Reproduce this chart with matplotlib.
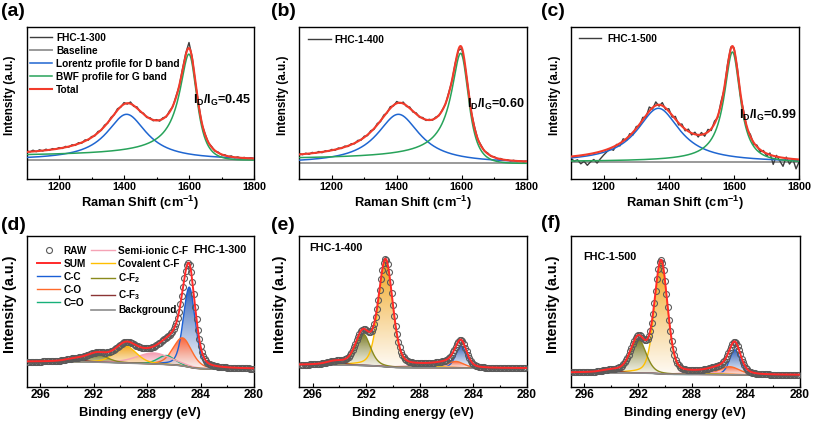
import numpy as np
import matplotlib
matplotlib.use("Agg")
import matplotlib.pyplot as plt
from matplotlib.colors import to_rgb

plt.rcParams.update({
    'font.family': ['Liberation Sans', 'DejaVu Sans'],
    'font.weight': 'bold',
    'axes.labelweight': 'bold',
    'mathtext.fontset': 'custom',
    'mathtext.rm': 'Liberation Sans:bold',
    'mathtext.it': 'Liberation Sans:bold',
    'mathtext.bf': 'Liberation Sans:bold',
    'mathtext.sf': 'Liberation Sans:bold',
    'axes.linewidth': 1.0,
})

# ---------------- Raman data (a-c) ----------------
raman_shift = np.arange(1100, 1801, 10)
raman_fhc300 = [9.5, 8.0, 9.8, 8.3, 10.2, 9.0, 10.8, 9.6, 11.4, 10.6,
                12.4, 11.5, 13.6, 12.9, 15.2, 14.6, 17.3, 16.8, 20.1, 19.8,
                23.4, 24.0, 28.5, 29.6, 34.8, 36.9, 42.6, 45.2, 51.3, 52.8,
                57.4, 55.9, 58.0, 53.6, 53.1, 47.9, 46.8, 42.5, 42.3, 39.2,
                40.4, 38.9, 42.3, 43.0, 49.1, 53.2, 63.8, 73.9, 91.2, 106.8,
                117.5, 102.5, 76.6, 55.2, 35.6, 25.8, 16.9, 13.4, 8.8, 7.9,
                5.1, 5.3, 3.2, 4.1, 2.3, 3.1, 1.8, 2.6, 1.4, 2.3, 1.2]
raman_fhc400 = [9.8, 8.6, 10.1, 9.0, 10.9, 10.0, 11.8, 10.6, 12.5, 11.9,
                13.9, 13.0, 15.3, 14.8, 17.2, 16.8, 19.6, 19.5, 22.9, 23.1,
                27.1, 27.7, 32.6, 33.9, 39.8, 41.7, 48.2, 50.3, 56.6, 57.4,
                61.8, 59.9, 61.2, 56.8, 56.3, 51.2, 50.4, 45.9, 45.8, 42.8,
                44.0, 43.1, 46.2, 47.6, 53.3, 59.1, 70.8, 82.4, 100.2, 112.9,
                114.8, 97.6, 74.7, 50.6, 35.8, 23.5, 17.9, 12.1, 10.3, 6.9,
                6.6, 4.4, 4.8, 3.0, 3.6, 2.3, 3.0, 1.8, 2.6, 1.5, 2.3]
raman_fhc500 = [4.0, 1.2, 2.5, -1.5, 1.0, -3.0, 0.5, 2.8, -0.8, 3.5,
                7.2, 10.5, 13.8, 12.0, 17.9, 16.4, 23.5, 21.9, 28.6, 27.4,
                35.8, 36.2, 44.9, 45.1, 55.3, 53.2, 60.4, 56.1, 59.7, 52.8,
                53.6, 45.2, 45.9, 37.4, 38.3, 31.5, 33.2, 27.4, 30.1, 25.3,
                29.8, 26.1, 32.9, 31.8, 41.2, 44.7, 60.8, 73.1, 98.4, 115.2,
                114.3, 94.6, 66.1, 50.4, 32.6, 27.9, 18.1, 17.2, 10.4, 11.8,
                6.5, 9.3, -2.1, 6.9, 1.5, -4.0, 5.2, -1.8, 3.6, -6.5, 1.0]
raman_samples = ['FHC-1-300', 'FHC-1-400', 'FHC-1-500']
id_ig_ratio = ['0.45', '0.60', '0.99']
# fitted band parameters: Lorentz D band and BWF G band
d_center = [1408, 1405, 1368]
d_height = [45.7, 49.0, 54.0]
d_hwhm = [75, 80, 80]
g_center = [1605, 1602, 1596.5]
g_height = [103, 107, 110]
g_fwhm = [65, 65, 60]
g_q = [-6, -6, -20]

# ---------------- XPS C 1s data (d-f) ----------------
xps_be = np.round(np.arange(280.1, 296.95, 0.1), 1)
xps_raw_300 = [18, 18, 18, 19, 19, 19, 19, 19, 19, 19,
               19, 19, 19, 19, 19, 19, 19, 19, 19, 19,
               20, 20, 20, 20, 20, 20, 20, 21, 21, 21,
               22, 22, 23, 23, 24, 26, 28, 31, 35, 41,
               48, 57, 68, 80, 93, 105, 115, 122, 124, 122,
               116, 109, 100, 91, 83, 75, 69, 64, 61, 58,
               55, 54, 52, 51, 50, 49, 48, 47, 46, 44,
               44, 43, 42, 41, 40, 40, 39, 39, 39, 39,
               39, 39, 39, 39, 40, 40, 41, 41, 42, 43,
               44, 44, 45, 45, 45, 45, 45, 44, 43, 42,
               41, 40, 39, 38, 37, 36, 36, 35, 35, 35,
               34, 34, 35, 35, 35, 35, 35, 35, 34, 34,
               34, 33, 33, 32, 32, 31, 31, 30, 30, 30,
               30, 29, 29, 29, 29, 29, 28, 28, 28, 28,
               27, 27, 27, 27, 26, 26, 26, 26, 26, 26,
               26, 26, 26, 26, 26, 26, 26, 26, 25, 25,
               25, 25, 25, 25, 25, 25, 25, 25, 25]
xps_raw_400 = [19, 19, 19, 19, 19, 19, 19, 19, 19, 19,
               19, 19, 19, 19, 19, 19, 19, 19, 19, 19,
               19, 19, 19, 19, 19, 19, 19, 19, 19, 19,
               19, 20, 20, 20, 20, 20, 21, 21, 22, 23,
               24, 26, 29, 32, 36, 39, 43, 46, 47, 47,
               45, 43, 40, 37, 35, 32, 30, 29, 28, 27,
               26, 26, 26, 25, 25, 25, 25, 25, 24, 24,
               24, 24, 24, 24, 24, 24, 24, 24, 24, 24,
               24, 24, 24, 24, 24, 25, 25, 25, 26, 27,
               28, 30, 32, 35, 40, 45, 53, 61, 71, 82,
               94, 105, 115, 123, 127, 128, 124, 117, 108, 97,
               87, 78, 70, 63, 59, 56, 55, 55, 56, 57,
               58, 58, 57, 56, 53, 50, 47, 43, 40, 37,
               34, 32, 30, 29, 28, 28, 27, 27, 27, 27,
               27, 27, 26, 26, 26, 26, 25, 25, 25, 24,
               24, 24, 24, 23, 23, 23, 23, 23, 23, 23,
               23, 23, 22, 22, 22, 22, 22, 22, 22]
xps_raw_500 = [12, 12, 12, 12, 12, 12, 12, 12, 12, 12,
               12, 12, 12, 12, 12, 12, 12, 12, 12, 12,
               12, 12, 13, 13, 13, 13, 13, 13, 13, 13,
               13, 13, 14, 14, 14, 15, 15, 16, 18, 19,
               22, 25, 28, 33, 37, 41, 44, 45, 45, 43,
               40, 37, 34, 31, 28, 26, 25, 23, 22, 22,
               21, 21, 20, 20, 20, 19, 19, 18, 18, 18,
               18, 17, 17, 17, 17, 17, 17, 17, 17, 17,
               17, 17, 17, 17, 18, 18, 18, 19, 20, 22,
               24, 27, 32, 38, 46, 56, 67, 80, 93, 106,
               117, 124, 127, 125, 118, 108, 96, 84, 73, 64,
               56, 51, 48, 47, 47, 48, 49, 51, 52, 52,
               51, 49, 46, 43, 39, 36, 32, 29, 27, 25,
               23, 21, 20, 20, 19, 19, 18, 18, 18, 18,
               18, 18, 17, 17, 17, 17, 16, 16, 16, 16,
               16, 15, 15, 15, 15, 15, 15, 15, 15, 15,
               15, 15, 15, 15, 15, 15, 15, 15, 15]
xps_samples = ['FHC-1-300', 'FHC-1-400', 'FHC-1-500']
xps_components = ['C-C', 'C-O', 'C=O', 'Semi-ionic C-F', 'Covalent C-F',
                  'C-F$_2$', 'C-F$_3$']
# fitted component parameters (centre eV, height, FWHM eV)
xps_center_300 = [284.84, 285.35, 286.55, 287.5, 289.6, 291.75, 293.4]
xps_height_300 = [80, 28, 9, 11, 17, 8, 2.5]
xps_fwhm_300 = [1.05, 1.65, 1.5, 3.0, 1.9, 1.75, 1.6]
xps_center_400 = [284.9, 285.3, 286.5, 287.5, 290.55, 292.25, 294.3]
xps_height_400 = [22, 6.5, 1.5, 2.5, 106, 32, 3]
xps_fwhm_400 = [0.95, 1.5, 1.4, 3.5, 1.25, 1.3, 1.5]
xps_center_500 = [284.8, 285.2, 286.4, 287.0, 290.3, 292.0, 294.0]
xps_height_500 = [25, 8, 1.5, 2.5, 112, 34, 2]
xps_fwhm_500 = [0.95, 1.8, 1.4, 3.5, 1.15, 1.35, 1.5]
bg_low_be = [17.7, 18.4, 11.7]
bg_high_be = [25.0, 21.7, 14.0]

comp_line = ['#1a5fd6', '#ff6a2a', '#17b07a', '#f5a3b5', '#ffbf00', '#8a8a1c', '#8b3434']
comp_fill = ['#2a5cb5', '#ff5e30', '#20ad74', '#f394aa', '#f0a010', '#75751c', '#8b3c3c']

W, H = 813, 421
fig = plt.figure(figsize=(W / 100, H / 100), dpi=100)


def add_ax(l, r, t, b):
    return fig.add_axes([l / W, 1 - b / H, (r - l) / W, (b - t) / H])


def lorentz(x, c, h, hw):
    return h / (1 + ((x - c) / hw) ** 2)


def bwf(x, c, h, fw, q):
    d = 2 * (x - c) / fw
    return h * (1 + d / q) ** 2 / (1 + d ** 2)


def gl(x, c, h, w, m=0.3):
    t = (x - c) / w
    return h * ((1 - m) * np.exp(-4 * np.log(2) * t ** 2) + m / (1 + 4 * t ** 2))


def shirley(x, signal, b_lo, b_hi):
    cum = np.cumsum(signal)
    cum = cum / cum[-1]
    return b_lo + (b_hi - b_lo) * cum


def gradient_fill(ax, x, base, top, color, z):
    poly = ax.fill_between(x, base, top, facecolor='none', edgecolor='none', zorder=z)
    n = 200
    t = np.linspace(0, 1, n)
    k = 0.05 + 0.95 * t ** 0.85
    c = np.array(to_rgb(color))
    img = np.zeros((n, 1, 4))
    img[:, 0, :3] = (1 - k)[:, None] * 1.0 + k[:, None] * c[None, :]
    img[:, 0, 3] = 0.6 + 0.38 * t
    im = ax.imshow(img, extent=[x.min(), x.max(), base.min(), top.max()],
                   origin='lower', aspect='auto', zorder=z, interpolation='bilinear')
    im.set_clip_path(poly.get_paths()[0], transform=ax.transData)


def style_x(ax, size, pad):
    ax.tick_params(axis='x', which='both', direction='in', top=False, bottom=True,
                   labelsize=size, pad=pad, width=0.8)
    ax.tick_params(axis='x', which='major', length=2.6)
    ax.tick_params(axis='x', which='minor', length=1.4)
    ax.tick_params(axis='y', which='both', left=False, right=False, labelleft=False)


# ---------------- Raman panels ----------------
top_boxes = [(26.5, 254, 27, 179), (299.3, 526.7, 27, 179), (571, 799.3, 27, 179)]
raman_ylim = [(-19.0, 133.0), (-15.7, 136.3), (-16.7, 135.3)]
raman_raw = [raman_fhc300, raman_fhc400, raman_fhc500]
raman_ylabel_x = [10, 283.3, 555]
leg_anchor = [(0.0154, 0.962), (0.0396, 0.948), (0.035, 0.955)]
leg_textpad = [0.4, 0.33, 0.59]
id_pos = [(0.987, 0.52), (0.9925, 0.493), (0.99, 0.421)]
xf = np.linspace(1100, 1800, 701)
for i, box in enumerate(top_boxes):
    ax = add_ax(*box)
    D = lorentz(xf, d_center[i], d_height[i], d_hwhm[i])
    G = bwf(xf, g_center[i], g_height[i], g_fwhm[i], g_q[i])
    h_raw, = ax.plot(raman_shift, raman_raw[i], color='#3d3d3d', lw=1.0,
                     label=raman_samples[i], zorder=2)
    h_base = ax.axhline(0, color='#9a9a9a', lw=1.4, label='Baseline', zorder=1)
    h_d, = ax.plot(xf, D, color='#1f66d1', lw=1.1, label='Lorentz profile for D band', zorder=3)
    h_g, = ax.plot(xf, G, color='#27a35a', lw=1.1, label='BWF profile for G band', zorder=3)
    h_t, = ax.plot(xf, D + G, color='#f23b2b', lw=1.5, label='Total', zorder=4)
    handles = [h_raw, h_base, h_d, h_g, h_t] if i == 0 else [h_raw]
    ax.legend(handles=handles, loc='upper left', bbox_to_anchor=leg_anchor[i],
              frameon=False, fontsize=7.3, handlelength=2.2, handletextpad=leg_textpad[i],
              labelspacing=0.29, borderpad=0, borderaxespad=0)
    ax.text(id_pos[i][0], id_pos[i][1], r'I$_\mathrm{D}$/I$_\mathrm{G}$=' + id_ig_ratio[i],
            transform=ax.transAxes, ha='right', va='center', fontsize=9, zorder=10)
    ax.set_xlim(1100, 1800)
    ax.set_ylim(*raman_ylim[i])
    ax.set_xticks([1200, 1400, 1600, 1800])
    ax.set_xticks([1300, 1500, 1700], minor=True)
    style_x(ax, 7.8, 1.9)
    ax.set_xlabel('Raman Shift (cm$^{-1}$)', fontsize=9.3)
    ax.xaxis.label.set_va('center')
    ax.xaxis.set_label_coords(0.5, -(203 - box[3]) / (box[3] - box[2]))
    ax.set_ylabel('Intensity (a.u.)', fontsize=8.4)
    ax.yaxis.label.set_va('center')
    ax.yaxis.set_label_coords((raman_ylabel_x[i] - box[0]) / (box[1] - box[0]), 0.553)

# ---------------- XPS panels ----------------
bot_boxes = [(26.7, 254, 235.7, 386.7), (299.3, 526.7, 235.7, 386.7), (571, 799.5, 235.7, 386.7)]
xps_raw = [xps_raw_300, xps_raw_400, xps_raw_500]
xps_center = [xps_center_300, xps_center_400, xps_center_500]
xps_height = [xps_height_300, xps_height_400, xps_height_500]
xps_fwhm = [xps_fwhm_300, xps_fwhm_400, xps_fwhm_500]
xps_ylabel_x = [10, 280, 553.3]
xe = np.linspace(280, 297, 1701)
name_pos = [(0.968, 0.905, 'right'), (0.044, 0.917, 'left'), (0.0525, 0.861, 'left')]
for i, box in enumerate(bot_boxes):
    ax = add_ax(*box)
    comps = [gl(xe, c, h, w) for c, h, w in zip(xps_center[i], xps_height[i], xps_fwhm[i])]
    total = np.sum(comps, axis=0)
    bg = shirley(xe, total, bg_low_be[i], bg_high_be[i])
    comp_handles = []
    for j, comp in enumerate(comps):
        gradient_fill(ax, xe, bg, bg + comp, comp_fill[j], 1 + j * 0.01)
        hj, = ax.plot(xe, bg + comp, color=comp_line[j], lw=1.0, zorder=2,
                      label=xps_components[j])
        comp_handles.append(hj)
    h_bg, = ax.plot(xe, bg, color='#8c8c8c', lw=1.2, zorder=3, label='Background')
    h_raw, = ax.plot(xps_be, xps_raw[i], 'o', mfc='none', mec='#5a5a5a', ms=4.3, mew=0.8,
                     zorder=4, label='RAW')
    h_sum, = ax.plot(xe, bg + total, color='#ff2a2a', lw=1.4, zorder=5, label='SUM')
    if i == 0:
        handles = [h_raw, h_sum] + comp_handles + [h_bg]
        ax.legend(handles=handles, ncol=2, loc='upper left', bbox_to_anchor=(0.0453, 0.934),
                  frameon=False, fontsize=7.2, handlelength=2.33, handletextpad=0.33,
                  columnspacing=0.45, labelspacing=0.3, borderpad=0, borderaxespad=0)
    px, py, ha = name_pos[i]
    ax.text(px, py, xps_samples[i], transform=ax.transAxes, ha=ha, va='center', fontsize=7.8,
            zorder=10)
    ax.set_xlim(297, 280)
    ax.set_ylim(0, 151)
    ax.set_xticks([296, 292, 288, 284, 280])
    ax.set_xticks([294, 290, 286, 282], minor=True)
    style_x(ax, 8.6, 2.0)
    ax.set_xlabel('Binding energy (eV)', fontsize=9.3)
    ax.xaxis.label.set_va('center')
    ax.xaxis.set_label_coords(0.5, -(413.3 - box[3]) / (box[3] - box[2]))
    ax.set_ylabel('Intensity (a.u.)', fontsize=10.4)
    ax.yaxis.label.set_va('center')
    ax.yaxis.set_label_coords((xps_ylabel_x[i] - box[0]) / (box[1] - box[0]), 0.548)

for lab, (x, y) in zip(['(a)', '(b)', '(c)', '(d)', '(e)', '(f)'],
                       [(1, 12), (271, 12), (541, 12), (1, 226), (271, 226), (541, 224)]):
    fig.text(x / W, 1 - y / H, lab, fontsize=14, fontweight='bold', ha='left', va='center')

fig.savefig('out.png', dpi=100)
